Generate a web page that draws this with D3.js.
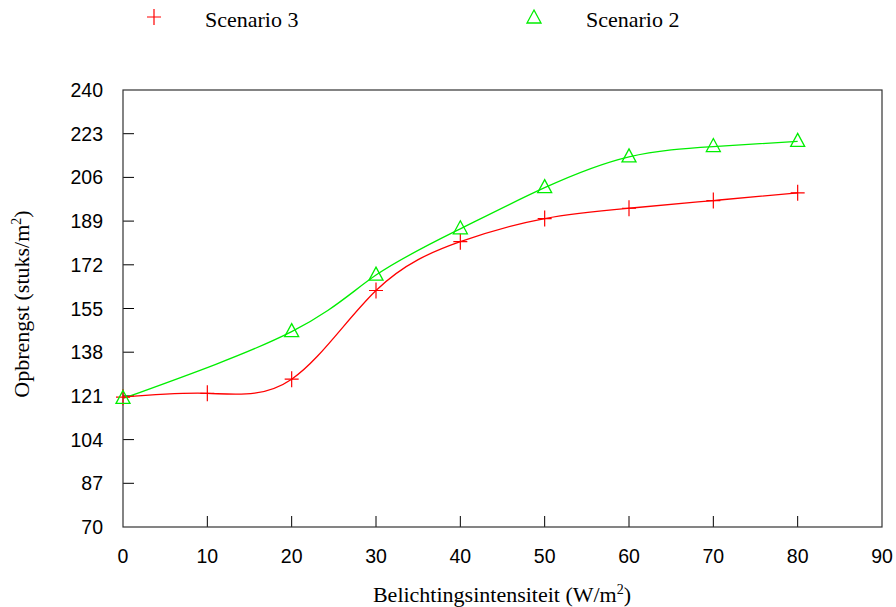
<!DOCTYPE html>
<html lang="en">
<head>
  <meta charset="UTF-8">
  <title>Opbrengst vs belichtingsintensiteit</title>
  <script src="https://d3js.org/d3.v7.min.js"></script>
  <style>
    body { margin: 0; background: #fff; }
    .tick-label { font: 19.5px "Liberation Sans", Arial, sans-serif; fill: #000; }
    .title { font: 22px "Liberation Serif", "Times New Roman", serif; fill: #000; }
    .frame { fill: none; stroke: #333; stroke-width: 1.2px; }
  </style>
</head>
<body>
  <svg id="chart" width="896" height="607"></svg>

  <script>
    // data
    const xTicks = [0, 10, 20, 30, 40, 50, 60, 70, 80, 90];
    const yTicks = [70, 87, 104, 121, 138, 155, 172, 189, 206, 223, 240];

    const scen3X = [0, 10, 20, 30, 40, 50, 60, 70, 80];
    const scen3Y = [120.5, 122, 127.5, 162, 181, 190, 194, 197, 200];

    const scen2X = [0, 20, 30, 40, 50, 60, 70, 80];
    const scen2Y = [120, 146, 168, 186, 202, 214, 218, 220];

    const svg = d3.select("#chart");
    const margin = {top: 90, right: 14, bottom: 80, left: 123};
    const width = 896 - margin.left - margin.right;
    const height = 607 - margin.top - margin.bottom;

    const x = d3.scaleLinear().domain([0, 90]).range([0, width]);
    const y = d3.scaleLinear().domain([70, 240]).range([height, 0]);

    const g = svg.append("g").attr("transform", "translate(" + margin.left + "," + margin.top + ")");

    // ticks, pointing inward
    g.selectAll(".ytick").data(yTicks.slice(1, -1)).enter().append("line")
      .attr("x1", 0).attr("x2", 11)
      .attr("y1", d => y(d)).attr("y2", d => y(d))
      .attr("stroke", "#000").attr("stroke-width", 1);
    g.selectAll(".xtick").data(xTicks.slice(1, -1)).enter().append("line")
      .attr("x1", d => x(d)).attr("x2", d => x(d))
      .attr("y1", height).attr("y2", height - 11)
      .attr("stroke", "#000").attr("stroke-width", 1);

    g.selectAll(".ylab").data(yTicks).enter().append("text")
      .attr("class", "tick-label")
      .attr("x", -20).attr("y", d => y(d) + 7)
      .attr("text-anchor", "end")
      .text(d => d);
    g.selectAll(".xlab").data(xTicks).enter().append("text")
      .attr("class", "tick-label")
      .attr("x", d => x(d)).attr("y", height + 36)
      .attr("text-anchor", "middle")
      .text(d => d);

    g.append("rect").attr("class", "frame")
      .attr("x", 0).attr("y", 0).attr("width", width).attr("height", height);

    // smooth lines (natural cubic spline, as in the source)
    const line = d3.line().curve(d3.curveNatural).x(d => x(d[0])).y(d => y(d[1]));
    const s3 = scen3X.map((v, i) => [v, scen3Y[i]]);
    const s2 = scen2X.map((v, i) => [v, scen2Y[i]]);

    g.append("path").datum(s2).attr("d", line)
      .attr("fill", "none").attr("stroke", "#00ee00").attr("stroke-width", 1.3);
    g.append("path").datum(s3).attr("d", line)
      .attr("fill", "none").attr("stroke", "#ff0000").attr("stroke-width", 1.3);

    function drawPlus(sel, cx, cy) {
      sel.append("path")
        .attr("d", "M" + (cx - 7) + "," + cy + "H" + (cx + 7) + "M" + cx + "," + (cy - 8) + "V" + (cy + 8))
        .attr("stroke", "#ff0000").attr("stroke-width", 1.2).attr("fill", "none");
    }
    function drawTri(sel, cx, cy) {
      sel.append("path")
        .attr("d", "M" + cx + "," + (cy - 8) + "L" + (cx + 7) + "," + (cy + 5) + "L" + (cx - 7) + "," + (cy + 5) + "Z")
        .attr("stroke", "#00ee00").attr("stroke-width", 1.3).attr("fill", "none");
    }

    s3.forEach(d => drawPlus(g, x(d[0]), y(d[1])));
    s2.forEach(d => drawTri(g, x(d[0]), y(d[1])));

    // axis titles
    svg.append("text").attr("class", "title")
      .attr("x", 502).attr("y", 602)
      .attr("text-anchor", "middle")
      .html("Belichtingsintensiteit (W/m<tspan dy='-8' font-size='14'>2</tspan><tspan dy='8'>)</tspan>");
    svg.append("text").attr("class", "title")
      .attr("transform", "translate(29,304) rotate(-90)")
      .attr("text-anchor", "middle")
      .html("Opbrengst (stuks/m<tspan dy='-8' font-size='14'>2</tspan><tspan dy='8'>)</tspan>");

    // legend
    const leg = svg.append("g");
    drawPlus(leg, 154, 17);
    leg.append("text").attr("class", "title").attr("x", 205).attr("y", 27).text("Scenario 3");
    drawTri(leg, 534, 18);
    leg.append("text").attr("class", "title").attr("x", 586).attr("y", 27).text("Scenario 2");
  </script>
</body>
</html>
